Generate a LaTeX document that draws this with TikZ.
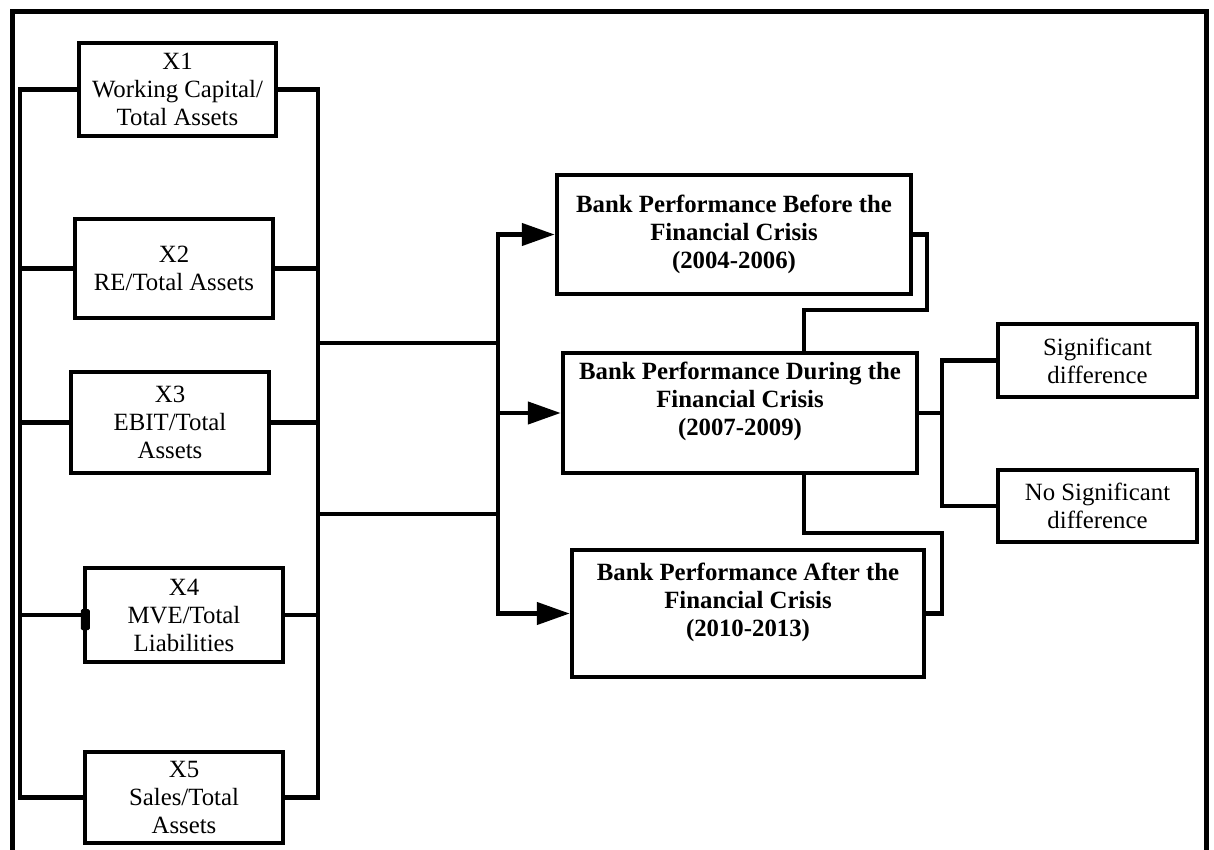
\documentclass[tikz,border=0pt]{standalone}
\usepackage{fontspec}
\setmainfont{Liberation Serif}
\usetikzlibrary{arrows.meta,calc}
\begin{document}
\begin{tikzpicture}[x=1pt,y=-1pt,
  line width=4.5pt,
  txt/.style={font=\fontsize{24.8}{28}\selectfont},
  varbox/.style={draw, txt, align=center, inner sep=0pt, line width=4.5pt},
  perfbox/.style={draw, font=\fontsize{24.8}{28}\selectfont\bfseries, align=center, inner sep=0pt, line width=4.5pt},
  wire/.style={line cap=rect, line join=miter},
  arrowwire/.style={line cap=rect, -{Triangle[length=33pt,width=22pt]}}
]
\useasboundingbox (0,0) rectangle (1214,850);

% outer frame (open at the bottom)
\draw[line width=5pt] (12,852) -- (12,12) -- (1206,12) -- (1206,852);

% ratio boxes
\node[varbox, minimum width=197pt, minimum height=93pt]  (x1) at (177.5,89.5) {X1\\Working Capital/\\Total Assets};
\node[varbox, minimum width=198pt, minimum height=99pt]  (x2) at (174,268.5) {X2\\RE/Total Assets};
\node[varbox, minimum width=198pt, minimum height=101pt] (x3) at (170,422.5) {X3\\EBIT/Total\\Assets};
\node[varbox, minimum width=198pt, minimum height=94pt]  (x4) at (184,615) {X4\\MVE/Total\\Liabilities};
\node[varbox, minimum width=198pt, minimum height=91pt]  (x5) at (184,797.5) {X5\\Sales/Total\\Assets};

% performance boxes
\node[perfbox, minimum width=354pt, minimum height=119pt] (before) at (734,234.5)
  {Bank Performance Before the\\Financial Crisis\\(2004-2006)};
\node[perfbox, minimum width=354pt, minimum height=120pt] (during) at (740,413)
  {Bank Performance During the\\Financial Crisis\\(2007-2009)\\\mbox{}};
\node[perfbox, minimum width=352pt, minimum height=127pt] (after) at (748,613.5)
  {Bank Performance After the\\Financial Crisis\\(2010-2013)\\\mbox{}};

% outcome boxes
\node[varbox, minimum width=199pt, minimum height=73pt] (sig) at (1097.5,360.5) {Significant\\difference};
\node[varbox, minimum width=199pt, minimum height=72pt] (nosig) at (1097.5,506) {No Significant\\difference};

% bus positions
\coordinate (lbus) at (20,0);
\coordinate (rbus) at (318,0);
\coordinate (abus) at (498,0);
\coordinate (jA) at (318,343);
\coordinate (jB) at (318,514);
\coordinate (sbus) at (942,0);
\coordinate (dtop) at (804,353);
\coordinate (dbot) at (804,473);

% left bus collecting all ratios
\draw[wire] (x1.west) -- (x1.west -| lbus) -- (x5.west -| lbus) -- (x5.west);
\foreach \n in {x2,x3,x4}
  \draw[wire] (\n.west) -- (\n.west -| lbus);
% thickened joint on the X4 box
\fill[rounded corners=1.5pt] ($(x4.west)+(-2,-6)$) rectangle ($(x4.west)+(7,15)$);

% right bus collecting all ratios
\draw[wire] (x1.east) -- (x1.east -| rbus) -- (x5.east -| rbus) -- (x5.east);
\foreach \n in {x2,x3,x4}
  \draw[wire] (\n.east) -- (\n.east -| rbus);

% links to the arrow bus
\draw[wire] (jA) -- (jA -| abus);
\draw[wire] (jB) -- (jB -| abus);
\draw[wire] (before.west -| abus) -- (after.west -| abus);

% arrows to the three periods
\draw[arrowwire] (before.west -| abus) -- (before.west);
\draw[arrowwire] (during.west -| abus) -- (during.west);
\draw[arrowwire] (after.west -| abus) -- (after.west);

% before -> during
\draw[wire] (before.east) -- (927,234.5) -- (927,310) -- (804,310) -- (dtop);

% during -> after
\draw[wire] (dbot) -- (804,533) -- (942,533) -- (942,613.5) -- (after.east);

% during -> outcomes
\draw[wire] (during.east) -- (during.east -| sbus);
\draw[wire] (sig.west) -- (sig.west -| sbus) -- (nosig.west -| sbus) -- (nosig.west);
\end{tikzpicture}
\end{document}
